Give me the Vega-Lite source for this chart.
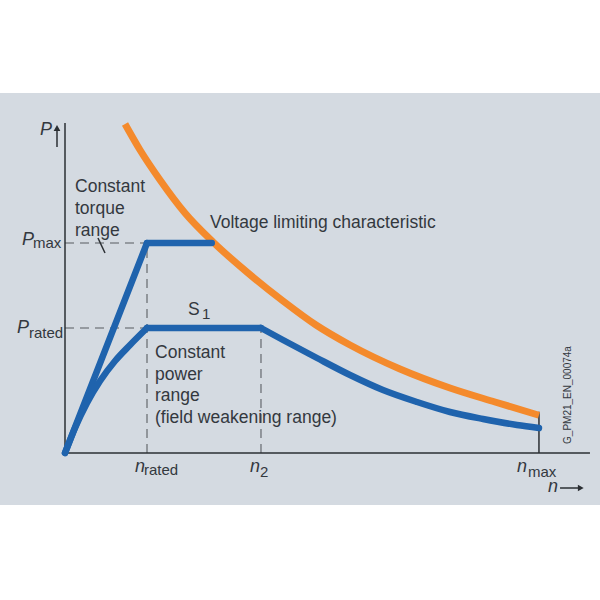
{
  "$schema": "https://vega.github.io/schema/vega-lite/v6.json",
  "width": 600,
  "height": 600,
  "autosize": {"type": "fit", "contains": "padding"},
  "padding": 0,
  "background": "white",
  "config": {"view": {"stroke": null}},
  "datasets": {
    "bg": [{"n0": -0.7927, "n1": 6.5244, "p0": -0.416, "p1": 2.88}],
    "orange": [
      {"n": 0.732, "P": 2.632}, {"n": 0.915, "P": 2.424}, {"n": 1.159, "P": 2.184},
      {"n": 1.463, "P": 1.92}, {"n": 1.805, "P": 1.688}, {"n": 2.232, "P": 1.44},
      {"n": 2.659, "P": 1.216}, {"n": 3.061, "P": 1.024}, {"n": 3.476, "P": 0.864},
      {"n": 4.085, "P": 0.672}, {"n": 4.695, "P": 0.52}, {"n": 5.244, "P": 0.408},
      {"n": 5.78, "P": 0.302}
    ],
    "blue": [
      {"series": "up1", "n": 0, "P": 0}, {"series": "up1", "n": 1, "P": 1.68},
      {"series": "up2", "n": 1, "P": 1.68}, {"series": "up2", "n": 1.79, "P": 1.68},
      {"series": "low1", "n": 0, "P": 0}, {"series": "low1", "n": 0.122, "P": 0.2},
      {"series": "low1", "n": 0.268, "P": 0.4}, {"series": "low1", "n": 0.427, "P": 0.576},
      {"series": "low1", "n": 0.61, "P": 0.736}, {"series": "low1", "n": 0.793, "P": 0.864},
      {"series": "low1", "n": 1, "P": 1},
      {"series": "low2", "n": 1, "P": 1}, {"series": "low2", "n": 2.39, "P": 1},
      {"series": "low3", "n": 2.39, "P": 1}, {"series": "low3", "n": 2.659, "P": 0.904},
      {"series": "low3", "n": 3.073, "P": 0.76}, {"series": "low3", "n": 3.476, "P": 0.624},
      {"series": "low3", "n": 3.878, "P": 0.504}, {"series": "low3", "n": 4.293, "P": 0.408},
      {"series": "low3", "n": 4.695, "P": 0.328}, {"series": "low3", "n": 5.098, "P": 0.272},
      {"series": "low3", "n": 5.512, "P": 0.224}, {"series": "low3", "n": 5.78, "P": 0.2}
    ],
    "dashed": [
      {"n": 0, "nEnd": 1, "P": 1.68, "PEnd": 1.68},
      {"n": 0, "nEnd": 1, "P": 1, "PEnd": 1},
      {"n": 1, "nEnd": 1, "P": 0, "PEnd": 1.68},
      {"n": 2.39, "nEnd": 2.39, "P": 0, "PEnd": 1}
    ],
    "solid": [
      {"n": 0, "nEnd": 0, "P": 0, "PEnd": 2.64},
      {"n": 0, "nEnd": 6.402, "P": 0, "PEnd": 0},
      {"n": 5.78, "nEnd": 5.78, "P": 0, "PEnd": 0.33},
      {"n": 0.402, "nEnd": 0.488, "P": 1.72, "PEnd": 1.6},
      {"n": -0.0976, "nEnd": -0.0976, "P": 2.448, "PEnd": 2.58},
      {"n": 6.037, "nEnd": 6.256, "P": -0.28, "PEnd": -0.28}
    ],
    "arrowUp": [{"n": -0.0976, "P": 2.6}],
    "arrowRight": [{"n": 6.29, "P": -0.28}],
    "body": [
      {"label": "Constant", "n": 0.122, "P": 2.088},
      {"label": "torque", "n": 0.122, "P": 1.912},
      {"label": "range", "n": 0.122, "P": 1.736},
      {"label": "Voltage limiting characteristic", "n": 1.768, "P": 1.8},
      {"label": "S", "n": 1.5, "P": 1.104},
      {"label": "Constant", "n": 1.098, "P": 0.76},
      {"label": "power", "n": 1.098, "P": 0.584},
      {"label": "range", "n": 1.098, "P": 0.416},
      {"label": "(field weakening range)", "n": 1.098, "P": 0.24}
    ],
    "italic": [
      {"label": "P", "n": -0.305, "P": 2.544},
      {"label": "P", "n": -0.524, "P": 1.664},
      {"label": "P", "n": -0.585, "P": 0.96},
      {"label": "n", "n": 0.854, "P": -0.152},
      {"label": "n", "n": 2.256, "P": -0.152},
      {"label": "n", "n": 5.512, "P": -0.152},
      {"label": "n", "n": 5.89, "P": -0.312}
    ],
    "sub": [
      {"label": "max", "n": -0.39, "P": 1.64},
      {"label": "rated", "n": -0.439, "P": 0.92},
      {"label": "rated", "n": 0.963, "P": -0.176},
      {"label": "2", "n": 2.378, "P": -0.192},
      {"label": "max", "n": 5.646, "P": -0.192},
      {"label": "1", "n": 1.671, "P": 1.072}
    ],
    "code": [{"label": "G_PM21_EN_00074a", "n": 6.134, "P": 0.464}]
  },
  "encoding": {
    "x": {"field": "n", "type": "quantitative", "scale": {"domain": [-0.7927, 6.5244], "nice": false, "zero": false}, "axis": null},
    "y": {"field": "P", "type": "quantitative", "scale": {"domain": [-1.176, 3.624], "nice": false, "zero": false}, "axis": null}
  },
  "layer": [
    {
      "data": {"name": "bg"},
      "mark": {"type": "rect", "color": "#d4dae1"},
      "encoding": {
        "x": {"field": "n0", "type": "quantitative"},
        "x2": {"field": "n1"},
        "y": {"field": "p0", "type": "quantitative"},
        "y2": {"field": "p1"}
      }
    },
    {
      "data": {"name": "dashed"},
      "mark": {"type": "rule", "color": "#80858b", "strokeWidth": 1.6, "strokeDash": [9, 6]},
      "encoding": {"x2": {"field": "nEnd"}, "y2": {"field": "PEnd"}}
    },
    {
      "data": {"name": "solid"},
      "mark": {"type": "rule", "color": "#2b2f33", "strokeWidth": 1.5},
      "encoding": {"x2": {"field": "nEnd"}, "y2": {"field": "PEnd"}}
    },
    {
      "data": {"name": "arrowUp"},
      "mark": {"type": "point", "shape": "triangle-up", "filled": true, "color": "#2b2f33", "size": 45, "opacity": 1}
    },
    {
      "data": {"name": "arrowRight"},
      "mark": {"type": "point", "shape": "triangle-right", "filled": true, "color": "#2b2f33", "size": 45, "opacity": 1}
    },
    {
      "data": {"name": "orange"},
      "mark": {"type": "line", "color": "#f48a2c", "strokeWidth": 7, "interpolate": "monotone"},
      "encoding": {}
    },
    {
      "data": {"name": "blue"},
      "mark": {"type": "line", "color": "#1f63ad", "strokeWidth": 6.5, "interpolate": "monotone", "strokeCap": "round", "strokeJoin": "round"},
      "encoding": {"detail": {"field": "series"}}
    },
    {
      "data": {"name": "body"},
      "mark": {"type": "text", "align": "left", "baseline": "alphabetic", "font": "Liberation Sans", "fontSize": 17.5, "color": "#33383e"},
      "encoding": {"text": {"field": "label"}}
    },
    {
      "data": {"name": "italic"},
      "mark": {"type": "text", "align": "left", "baseline": "alphabetic", "font": "Liberation Sans", "fontSize": 18, "fontStyle": "italic", "color": "#33383e"},
      "encoding": {"text": {"field": "label"}}
    },
    {
      "data": {"name": "sub"},
      "mark": {"type": "text", "align": "left", "baseline": "alphabetic", "font": "Liberation Sans", "fontSize": 15, "color": "#33383e"},
      "encoding": {"text": {"field": "label"}}
    },
    {
      "data": {"name": "code"},
      "mark": {"type": "text", "align": "center", "baseline": "middle", "angle": 270, "font": "Liberation Sans", "fontSize": 10, "color": "#33383e"},
      "encoding": {"text": {"field": "label"}}
    }
  ]
}
